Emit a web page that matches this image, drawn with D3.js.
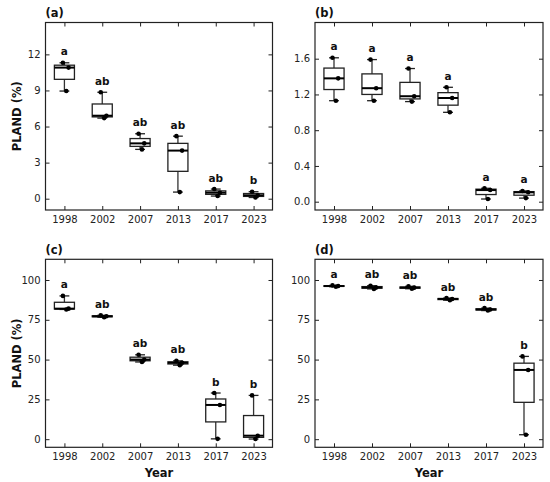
<!DOCTYPE html>
<html>
<head>
<meta charset="utf-8">
<script src="https://cdn.jsdelivr.net/npm/d3@7"></script>
<style>
  body { margin: 0; background: #fff; }
  svg { font-family: "DejaVu Sans", sans-serif; }
  .tick text { fill: #222; font-size: 10px; font-family: "DejaVu Sans", sans-serif; }
  .tick line { stroke: #222; stroke-width: 1; }
</style>
</head>
<body>
<svg id="chart" width="550" height="482"></svg>
<script>
// categories
const years = ["1998", "2002", "2007", "2013", "2017", "2023"]

// three replicate values per year, per panel (PLAND %)
const valuesA = [[8.95, 10.9, 11.3], [6.7, 6.9, 8.85], [4.1, 4.6, 5.4], [0.55, 4.0, 5.2], [0.22, 0.5, 0.8], [0.1, 0.28, 0.58]]
const valuesB = [[1.13, 1.38, 1.61], [1.13, 1.27, 1.59], [1.12, 1.18, 1.49], [1.0, 1.16, 1.28], [0.03, 0.13, 0.15], [0.04, 0.105, 0.12]]
const valuesC = [[81.5, 82, 90], [76.6, 77.2, 77.8], [48.5, 50, 53], [46.5, 48, 49.2], [0.2, 21.5, 29], [0.1, 2.2, 27.5]]
const valuesD = [[95.8, 96.2, 96.6], [94.4, 95.3, 96.4], [94.5, 95.2, 96], [87.3, 88.1, 88.6], [80.8, 81.5, 82.3], [2.8, 43.5, 52]]

// significance letters
const lettersA = ["a", "ab", "ab", "ab", "ab", "b"]
const lettersB = ["a", "a", "a", "a", "a", "a"]
const lettersC = ["a", "ab", "ab", "ab", "b", "b"]
const lettersD = ["a", "ab", "ab", "ab", "ab", "b"]

// y ticks
const ticksA = [0, 3, 6, 9, 12]
const ticksB = [0, 0.4, 0.8, 1.2, 1.6]
const ticksCD = [0, 25, 50, 75, 100]

const panels = [
    { tag: "(a)", values: valuesA, letters: lettersA, ticks: ticksA, fmt: d3.format("d"), ylim: [-0.94, 14.65],
      x0: 45.5, x1: 272.5, y0: 22.5, y1: 210, ylabel: true, xlabel: false },
    { tag: "(b)", values: valuesB, letters: lettersB, ticks: ticksB, fmt: d3.format(".1f"), ylim: [-0.093, 2.005],
      x0: 315, x1: 543, y0: 22.5, y1: 210, ylabel: false, xlabel: false },
    { tag: "(c)", values: valuesC, letters: lettersC, ticks: ticksCD, fmt: d3.format("d"), ylim: [-5.1, 113],
      x0: 45.5, x1: 272.5, y0: 259.3, y1: 447.3, ylabel: true, xlabel: true },
    { tag: "(d)", values: valuesD, letters: lettersD, ticks: ticksCD, fmt: d3.format("d"), ylim: [-5.1, 113],
      x0: 315, x1: 543, y0: 259.3, y1: 447.3, ylabel: false, xlabel: true }
]

// small fixed horizontal offsets for the replicate dots (fraction of step)
const jitter = [0.05, 0.11, -0.04]

let svg = d3.select("#chart")

panels.forEach(p => {

    let x = d3.scalePoint()
        .domain(years)
        .range([p.x0, p.x1])
        .padding(0.5)
    let step = x.step()

    let y = d3.scaleLinear()
        .domain(p.ylim)
        .range([p.y1, p.y0])

    let g = svg.append("g")

    // axes, ticks pointing inward
    g.append("g")
        .attr("transform", `translate(${p.x0},0)`)
        .call(d3.axisLeft(y).tickValues(p.ticks).tickFormat(p.fmt).tickSize(-4).tickPadding(5))
    g.append("g")
        .attr("transform", `translate(${p.x1},0)`)
        .call(d3.axisRight(y).tickValues(p.ticks).tickFormat("").tickSize(-4))
    g.append("g")
        .attr("transform", `translate(0,${p.y1})`)
        .call(d3.axisBottom(x).tickSize(-4).tickPadding(6))
    g.append("g")
        .attr("transform", `translate(0,${p.y0})`)
        .call(d3.axisTop(x).tickFormat("").tickSize(-4))
    g.selectAll(".domain").remove()

    g.append("rect")
        .attr("x", p.x0).attr("y", p.y0)
        .attr("width", p.x1 - p.x0).attr("height", p.y1 - p.y0)
        .attr("fill", "none").attr("stroke", "#222").attr("stroke-width", 1.2)

    let stats = p.values.map((v, i) => {
        let s = v.slice().sort(d3.ascending)
        return {
            year: years[i], vals: s, letter: p.letters[i],
            min: d3.min(s), max: d3.max(s),
            q1: d3.quantile(s, 0.25), med: d3.quantile(s, 0.5), q3: d3.quantile(s, 0.75)
        }
    })

    let bw = step * 0.53
    let cw = step * 0.26

    let box = g.selectAll(".box")
        .data(stats)
        .enter()
        .append("g")
            .attr("class", "box")

    // whiskers
    box.append("line")
        .attr("x1", d => x(d.year)).attr("x2", d => x(d.year))
        .attr("y1", d => y(d.q3)).attr("y2", d => y(d.max))
        .attr("stroke", "#333").attr("stroke-width", 1.3)
    box.append("line")
        .attr("x1", d => x(d.year)).attr("x2", d => x(d.year))
        .attr("y1", d => y(d.q1)).attr("y2", d => y(d.min))
        .attr("stroke", "#333").attr("stroke-width", 1.3)
    // caps
    box.append("line")
        .attr("x1", d => x(d.year) - cw / 2).attr("x2", d => x(d.year) + cw / 2)
        .attr("y1", d => y(d.max)).attr("y2", d => y(d.max))
        .attr("stroke", "#222").attr("stroke-width", 1.3)
    box.append("line")
        .attr("x1", d => x(d.year) - cw / 2).attr("x2", d => x(d.year) + cw / 2)
        .attr("y1", d => y(d.min)).attr("y2", d => y(d.min))
        .attr("stroke", "#222").attr("stroke-width", 1.3)
    // box
    box.append("rect")
        .attr("x", d => x(d.year) - bw / 2)
        .attr("y", d => y(d.q3))
        .attr("width", bw)
        .attr("height", d => Math.max(0.01, y(d.q1) - y(d.q3)))
        .attr("fill", "#fff").attr("stroke", "#222").attr("stroke-width", 1.3)
    // median
    box.append("line")
        .attr("x1", d => x(d.year) - bw / 2).attr("x2", d => x(d.year) + bw / 2)
        .attr("y1", d => y(d.med)).attr("y2", d => y(d.med))
        .attr("stroke", "#000").attr("stroke-width", 2)

    // replicate points
    box.selectAll("circle")
        .data(d => d.vals.map((v, k) => ({ year: d.year, v: v, k: k })))
        .enter()
        .append("circle")
            .attr("cx", d => x(d.year) + jitter[d.k] * step)
            .attr("cy", d => y(d.v))
            .attr("r", 2.3)
            .attr("fill", "#000")

    // letters
    box.append("text")
        .attr("x", d => x(d.year))
        .attr("y", d => y(d.max) - 7.5)
        .attr("text-anchor", "middle")
        .attr("font-size", "10.5px")
        .attr("font-weight", "bold")
        .attr("fill", "#111")
        .text(d => d.letter)

    // panel tag
    g.append("text")
        .attr("x", p.x0)
        .attr("y", p.y0 - 5.5)
        .attr("font-size", "11.5px")
        .attr("font-weight", "bold")
        .attr("fill", "#111")
        .text(p.tag)

    if (p.ylabel) {
        g.append("text")
            .attr("transform", `translate(21,${(p.y0 + p.y1) / 2}) rotate(-90)`)
            .attr("text-anchor", "middle")
            .attr("font-size", "11.5px")
            .attr("font-weight", "bold")
            .attr("fill", "#111")
            .text("PLAND (%)")
    }
    if (p.xlabel) {
        g.append("text")
            .attr("x", (p.x0 + p.x1) / 2)
            .attr("y", 476.5)
            .attr("text-anchor", "middle")
            .attr("font-size", "11.5px")
            .attr("font-weight", "bold")
            .attr("fill", "#111")
            .text("Year")
    }
})
</script>
</body>
</html>
